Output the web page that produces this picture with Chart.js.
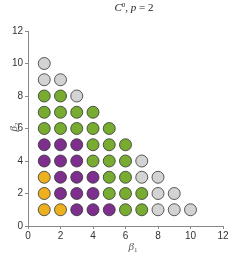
<!DOCTYPE html>
<html><head><meta charset="utf-8">
<script src="https://cdn.jsdelivr.net/npm/chart.js@4"></script>
<style>html,body{margin:0;padding:0;background:#fff}canvas{display:block}</style>
</head><body>
<canvas id="c" width="241" height="253"></canvas>
<script>
const seriesNames = ['orange', 'purple', 'green', 'gray'];
const orangePts = [[1,1],[2,1],[1,2],[1,3]];
const purplePts = [[3,1],[4,1],[5,1],[2,2],[3,2],[4,2],[2,3],[3,3],[4,3],[1,4],[2,4],[3,4],[1,5],[2,5],[3,5]];
const greenPts = [[6,1],[7,1],[5,2],[6,2],[7,2],[5,3],[6,3],[4,4],[5,4],[6,4],[4,5],[5,5],[6,5],
  [1,6],[2,6],[3,6],[4,6],[5,6],[1,7],[2,7],[3,7],[4,7],[1,8],[2,8]];
const grayPts = [[8,1],[9,1],[10,1],[8,2],[9,2],[7,3],[8,3],[7,4],[3,8],[1,9],[2,9],[1,10]];
const xTicks = [0,2,4,6,8,10,12];
const yTicks = [0,2,4,6,8,10,12];

const colors = ['#EDB120', '#7E2F8E', '#77AC30', '#D3D3D3'];
const allPts = [orangePts, purplePts, greenPts, grayPts];

const labelPlugin = {
  id: 'labels',
  afterDraw(chart) {
    const ctx = chart.ctx;
    const ca = chart.chartArea;
    ctx.save();
    ctx.fillStyle = '#222';
    ctx.textBaseline = 'alphabetic';
    // Title: C^0, p = 2
    const parts = [
      {t: 'C', f: 'italic 11px "Liberation Serif"'},
      {t: '0', f: '7px "Liberation Serif"', dy: -4},
      {t: ', ', f: '11px "Liberation Serif"'},
      {t: 'p', f: 'italic 11px "Liberation Serif"'},
      {t: ' = 2', f: '11px "Liberation Serif"'}
    ];
    let w = 0;
    parts.forEach(p => { ctx.font = p.f; p.w = ctx.measureText(p.t).width; w += p.w; });
    let x = 134 - w / 2;
    parts.forEach(p => { ctx.font = p.f; ctx.fillText(p.t, x, 11 + (p.dy || 0)); x += p.w; });
    // x label
    ctx.fillStyle = '#555';
    const drawBeta = (cx, cy, sub) => {
      ctx.font = 'italic 11px "Liberation Serif"';
      const bw = ctx.measureText('β').width;
      ctx.font = '7px "Liberation Serif"';
      const sw = ctx.measureText(sub).width;
      const sx = cx - (bw + sw) / 2;
      ctx.font = 'italic 11px "Liberation Serif"';
      ctx.fillText('β', sx, cy + 4);
      ctx.font = '7px "Liberation Serif"';
      ctx.fillText(sub, sx + bw, cy + 6);
    };
    drawBeta(133, 246, '1');
    ctx.save();
    ctx.translate(13, 127);
    ctx.rotate(-Math.PI / 2);
    drawBeta(0, 0, '2');
    ctx.restore();
    ctx.restore();
  }
};

new Chart(document.getElementById('c'), {
  type: 'scatter',
  data: {
    datasets: allPts.map((pts, i) => ({
      label: seriesNames[i],
      data: pts.map(p => ({x: p[0], y: p[1]})),
      backgroundColor: colors[i],
      borderColor: '#333',
      borderWidth: 0.8,
      pointRadius: 6,
      pointHoverRadius: 6
    }))
  },
  options: {
    responsive: false,
    animation: false,
    events: [],
    layout: {padding: {top: 31, right: 18, left: 0, bottom: 0}},
    plugins: {legend: {display: false}, title: {display: false}, tooltip: {enabled: false}},
    scales: {
      x: {
        type: 'linear', min: 0, max: 12,
        afterFit: s => { s.height = 27; },
        afterBuildTicks: s => { s.ticks = xTicks.map(v => ({value: v})); },
        ticks: {color: '#333', font: {family: 'Liberation Sans', size: 10}, padding: 1, maxRotation: 0},
        grid: {drawOnChartArea: false, drawTicks: true, tickLength: 3, color: '#888'},
        border: {display: true, color: '#888', width: 1}
      },
      y: {
        type: 'linear', min: 0, max: 12,
        afterFit: s => { s.width = 28; },
        afterBuildTicks: s => { s.ticks = yTicks.map(v => ({value: v})); },
        ticks: {color: '#333', font: {family: 'Liberation Sans', size: 10}, padding: 2},
        grid: {drawOnChartArea: false, drawTicks: true, tickLength: 3, color: '#888'},
        border: {display: true, color: '#888', width: 1}
      }
    }
  },
  plugins: [labelPlugin]
});
</script>
</body></html>
